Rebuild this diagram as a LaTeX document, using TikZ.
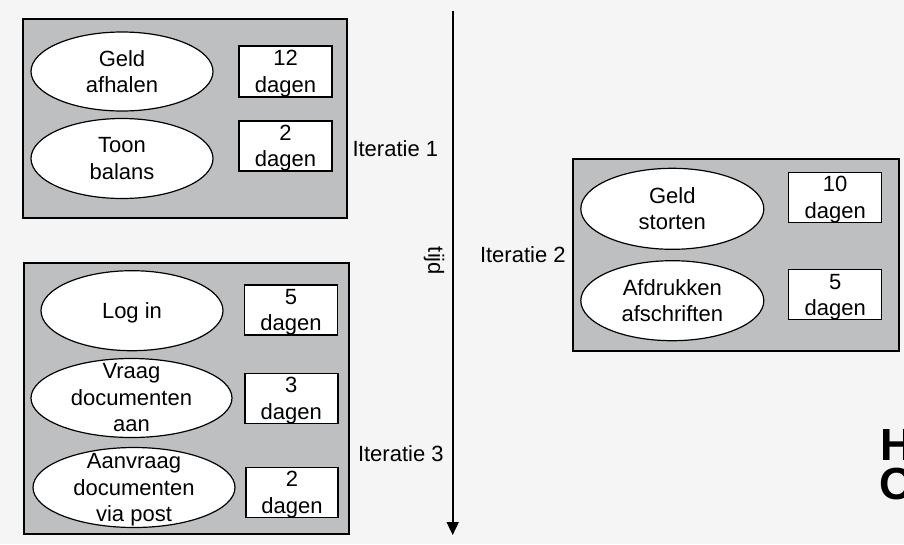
\documentclass[tikz,border=0pt]{standalone}
\usepackage{fontspec}
\setmainfont{Liberation Sans}
\usetikzlibrary{shapes.geometric,arrows.meta}
\definecolor{pagebg}{RGB}{245,245,245}
\definecolor{boxgrey}{RGB}{190,191,193}
\newcommand\nodepth[1]{\raisebox{0pt}[\height][0pt]{#1}}
\begin{document}
\begin{tikzpicture}[x=1pt,y=-1pt,
  txt/.style={font=\fontsize{22}{26.5}\selectfont, align=center, inner sep=0pt, text=black},
  group/.style={draw=black, line width=1.4pt, fill=boxgrey},
  usecase/.style={ellipse, draw=black, line width=1.2pt, fill=white, inner sep=0pt,
    label={[txt]center:#1}},
  dur/.style={rectangle, draw=black, line width=1.4pt, fill=white, inner sep=0pt,
    minimum width=93pt, minimum height=50pt, label={[txt]center:#1}},
  logo/.style={font=\fontsize{45}{45}\selectfont\bfseries, anchor=base west, inner sep=0pt, text=black}]
\clip (0,0) rectangle (904,544);
\fill[pagebg] (0,0) rectangle (904,544);

% Iteratie 1 group
\draw[group] (23,19) rectangle (347,218);
\node[usecase={Geld\\afhalen}, minimum width=182pt, minimum height=79pt] (e1) at (122,71.5) {};
\node[usecase={Toon\\balans}, minimum width=182pt, minimum height=80pt] (e2) at (122,158.5) {};
\node[dur={12\\\nodepth{dagen}}, minimum height=51pt] (r1) at (285.5,71.5) {};
\node[dur={2\\\nodepth{dagen}}] (r2) at (285.5,146) {};

% Iteratie 3 group
\draw[group] (24,263) rectangle (349,534);
\node[usecase={\nodepth{Log in}}, minimum width=182pt, minimum height=80pt] (e3) at (132,310.7) {};
\node[usecase={Vraag\\documenten\\aan}, minimum width=201pt, minimum height=79pt] (e4) at (131.5,398) {};
\node[usecase={Aanvraag\\documenten\\\nodepth{via post}}, minimum width=202pt, minimum height=80pt] (e5) at (134,487.5) {};
\node[dur={5\\\nodepth{dagen}}] (r3) at (291,310) {};
\node[dur={3\\\nodepth{dagen}}] (r4) at (291.3,398.3) {};
\node[dur={2\\\nodepth{dagen}}, minimum width=92pt] (r5) at (292,492.5) {};

% Iteratie 2 group
\draw[group] (573,159) rectangle (899,351);
\node[usecase={Geld\\storten}, minimum width=183pt, minimum height=81pt] (e6) at (672.3,208.8) {};
\node[usecase={Afdrukken\\afschriften}, minimum width=183pt, minimum height=80pt] (e7) at (672.3,300.7) {};
\node[dur={10\\\nodepth{dagen}}] (r6) at (835.2,197.3) {};
\node[dur={5\\\nodepth{dagen}}] (r7) at (835.2,294.7) {};

% labels
\node[txt] (it1) at (395.3,148.3) {Iteratie 1};
\node[txt] (it2) at (522.8,254.5) {Iteratie 2};
\node[txt] (it3) at (400.8,453.5) {Iteratie 3};

% time axis
\coordinate (tTop) at (452.7,10.7);
\coordinate (tBot) at (452.7,535);
\draw[line width=1.8pt, -{Triangle[width=12pt,length=13pt]}] (tTop) -- (tBot);
\node[txt, rotate=-90] (tijd) at (434,261) {tijd};

% cut-off logo
\node[logo] (logoH) at (880,460.7) {H};
\node[logo] (logoO) at (879.7,499.5) {O};
\end{tikzpicture}
\end{document}
